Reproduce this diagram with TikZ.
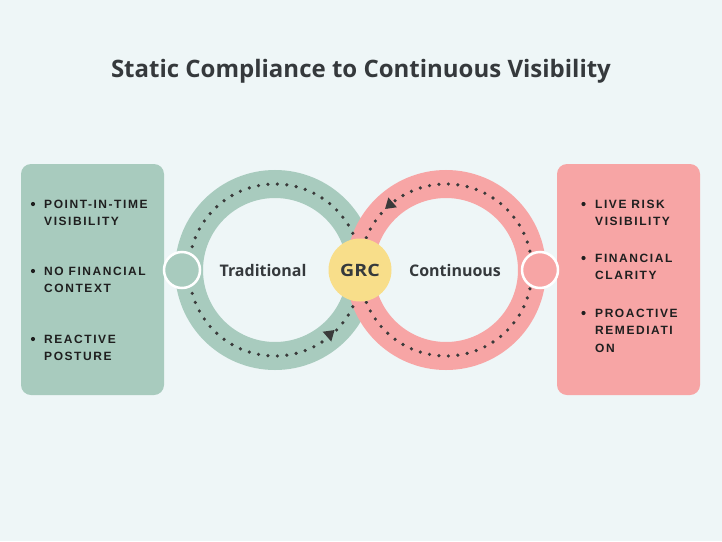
\documentclass[tikz,border=0pt]{standalone}
\usepackage{fontspec}
\setmainfont{Open Sans}
\newfontfamily\listfont[LetterSpace=13]{Liberation Sans}
\usetikzlibrary{positioning}
\definecolor{bgcol}{HTML}{EEF6F7}
\definecolor{ringgreen}{HTML}{A8CBBE}
\definecolor{ringred}{HTML}{F7A5A5}
\definecolor{grcyellow}{HTML}{F8DE8A}
\definecolor{darktext}{HTML}{35393C}
\definecolor{dotcol}{HTML}{3A3A3A}
\tikzset{
  ring/.style={circle, draw=#1, line width=28pt, minimum size=172pt, inner sep=0pt},
  dotring/.style={dotcol, line width=3.6pt, line cap=round, dash pattern=on 0pt off 9.48pt},
  connector/.style={circle, fill=#1, draw=white, line width=2.5pt, minimum size=36pt, inner sep=0pt},
  sidebox/.style={fill=#1, rounded corners=10pt, minimum width=143pt, minimum height=231pt, inner sep=0pt},
  tip/.style={fill=dotcol},
  ringlabel/.style={font=\fontsize{16}{18}\selectfont\bfseries, text=darktext},
  listtext/.style={font=\listfont\fontsize{12}{17}\selectfont\bfseries, text=black!88, anchor=base west, inner sep=0pt},
  bulletdot/.style={circle, fill=black!88, minimum size=4.2pt, inner sep=0pt}
}
\begin{document}
\begin{tikzpicture}[x=1pt, y=-1pt]
\useasboundingbox (0,0) rectangle (722,541);
\fill[bgcol] (0,0) rectangle (722,541);
% title
\node[font=\fontsize{24}{26}\selectfont\bfseries, text=darktext, anchor=base, inner sep=0pt] (title) at (361,77) {Static Compliance to Continuous Visibility};
% side boxes
\node[sidebox=ringgreen] (lbox) at (92.5,279.5) {};
\node[sidebox=ringred] (rbox) at (628.5,279.5) {};
% rings
\node[ring=ringgreen] (gring) at (275,270) {};
\node[ring=ringred] (rring) at (446,270) {};
\draw[dotring] (gring.center) circle[radius=86];
\draw[dotring] (rring.center) circle[radius=86];
% arrow heads
\fill[tip, shift={(330,334)}, rotate=41] (6,0) -- (-4,6.5) -- (-4,-6.5) -- cycle;
\fill[tip, shift={(389.6,205)}, rotate=221] (6,0) -- (-4,6.5) -- (-4,-6.5) -- cycle;
% connectors
\node[connector=ringgreen] (lconn) at (182,270) {};
\node[connector=ringred] (rconn) at (540,270) {};
% GRC
\node[circle, fill=grcyellow, minimum size=63pt, inner sep=0pt, font=\fontsize{17}{18}\selectfont\bfseries, text=darktext] (grc) at (360,270) {\scalebox{1.15}[1]{GRC}};
\node[ringlabel] (trad) at (263,270) {Traditional};
\node[ringlabel] (cont) at (455,270) {Continuous};
% left list
\node[bulletdot] (lb1) at (33,204) {};
\node[listtext] (lt1a) at (44,208) {POINT-IN-TIME};
\node[listtext] (lt1b) at (44,225) {VISIBILITY};
\node[bulletdot] (lb2) at (33,271) {};
\node[listtext] (lt2a) at (44,275) {NO FINANCIAL};
\node[listtext] (lt2b) at (44,292) {CONTEXT};
\node[bulletdot] (lb3) at (33,339) {};
\node[listtext] (lt3a) at (44,343) {REACTIVE};
\node[listtext] (lt3b) at (44,360) {POSTURE};
% right list
\node[bulletdot] (rb1) at (583.5,204) {};
\node[listtext] (rt1a) at (595,208) {LIVE RISK};
\node[listtext] (rt1b) at (595,225) {VISIBILITY};
\node[bulletdot] (rb2) at (583.5,258) {};
\node[listtext] (rt2a) at (595,262) {FINANCIAL};
\node[listtext] (rt2b) at (595,279) {CLARITY};
\node[bulletdot] (rb3) at (583.5,313) {};
\node[listtext] (rt3a) at (595,317) {PROACTIVE};
\node[listtext] (rt3b) at (595,334) {REMEDIATI};
\node[listtext] (rt3c) at (595,352) {ON};
\end{tikzpicture}
\end{document}
